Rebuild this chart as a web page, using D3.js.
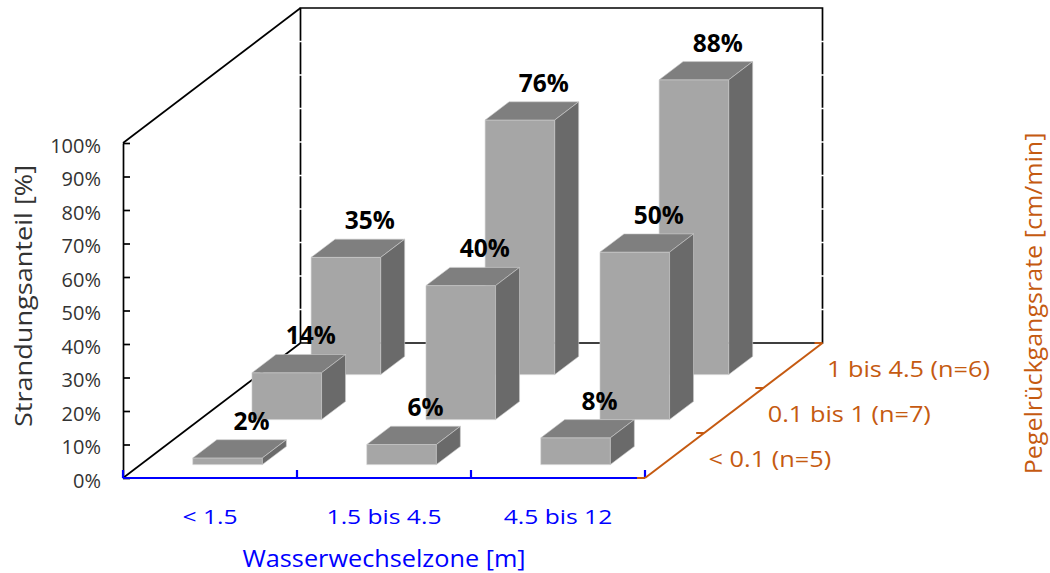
<!DOCTYPE html>
<html>
<head>
<meta charset="utf-8">
<script src="https://cdn.jsdelivr.net/npm/d3@7"></script>
<style>
  html, body { margin: 0; padding: 0; background: #fff; }
  svg { display: block; }
</style>
</head>
<body>
<svg id="chart" width="1050" height="573"></svg>
<script>
// Categories along the front axis (water level change zone)
const categories = ["< 1.5", "1.5 bis 4.5", "4.5 bis 12"];
// Series along the depth axis (rate of level decline)
const seriesNames = ["< 0.1 (n=5)", "0.1 bis 1 (n=7)", "1 bis 4.5 (n=6)"];
// Stranding share in percent, one array per series
const valuesLow = [2, 6, 8];
const valuesMid = [14, 40, 50];
const valuesHigh = [35, 76, 88];
const yTicks = [0, 10, 20, 30, 40, 50, 60, 70, 80, 90, 100];

const seriesValues = [valuesLow, valuesMid, valuesHigh];

const FONT = "'Open Sans', sans-serif";
const BLUE = "#0000ff";
const ORANGE = "#c55a11";
const GREY_TEXT = "#333333";

// Oblique 3D frame: front floor edge, wall height and depth offset
const x0 = 123, x1 = 645, floorY = 478, wallH = 335;
const depthDX = 177.5, depthDY = 135;

const svg = d3.select("#chart");

const x = d3.scaleBand().domain(categories).range([x0, x1])
  .paddingInner(0.6).paddingOuter(0.3);
const z = d3.scaleBand().domain(seriesNames).range([0, 1])
  .paddingInner(0.595).paddingOuter(0.2975);
const h = d3.scaleLinear().domain([0, 100]).range([0, wallH]);
const yAxisScale = d3.scaleLinear().domain([0, 100]).range([floorY, floorY - wallH]);
const catEdge = d3.scaleLinear().domain([0, categories.length]).range([x0, x1]);
const depthEdge = d3.scaleLinear().domain([0, seriesNames.length]).range([0, 1]);

// project a point given front x, depth fraction and height in px
const P = (px, d, height = 0) => [px + d * depthDX, floorY - d * depthDY - height];
const poly = pts => "M" + pts.map(p => p.join(",")).join("L") + "Z";
const seg = (a, b) => `M${a[0]},${a[1]}L${b[0]},${b[1]}`;

// text helper with horizontal scaling (wide Calibri-like look)
function label(parent, px, py, str, opt) {
  const g = parent.append("g")
    .attr("transform", `translate(${px},${py}) rotate(${opt.rotate || 0}) scale(${opt.sx || 1},1)`);
  g.append("text")
    .attr("text-anchor", opt.anchor || "start")
    .attr("font-family", FONT)
    .attr("font-size", opt.size)
    .attr("font-weight", opt.weight || "normal")
    .attr("fill", opt.fill || "#000")
    .text(str);
  return g;
}

// ---- walls ----
const walls = svg.append("g").attr("fill", "none").attr("stroke", "#000").attr("stroke-width", 1.7);
walls.append("path").attr("d", poly([P(x0, 1, h(100)), P(x1, 1, h(100)), P(x1, 1, 0), P(x0, 1, 0)]));
// white gridlines on the back wall
walls.selectAll("path.grid").data(yTicks.filter(v => v > 0 && v < 100)).join("path")
  .attr("class", "grid")
  .attr("stroke", "#fff").attr("stroke-width", 1.6)
  .attr("d", v => seg(P(x0 - 2, 1, h(v)), P(x1 + 2, 1, h(v))));
walls.append("path").attr("d", seg(P(x0, 0, h(100)), P(x0, 1, h(100))));
walls.append("path").attr("d", seg(P(x0, 0, 0), P(x0, 1, 0)));

// ---- y axis ----
const yAxis = svg.append("g").attr("transform", `translate(${x0},0)`)
  .call(d3.axisLeft(yAxisScale).tickValues(yTicks).tickFormat(d => d + "%")
    .tickSizeInner(-7).tickSizeOuter(0).tickPadding(22));
yAxis.select(".domain").attr("stroke", "#000").attr("stroke-width", 1.7);
yAxis.selectAll(".tick line").attr("stroke", "#000").attr("stroke-width", 1.7);
yAxis.selectAll(".tick text")
  .attr("font-family", FONT).attr("font-size", 20)
  .attr("fill", GREY_TEXT).attr("dy", "0.45em");

// ---- bars (back row first) ----
const bw = x.bandwidth(), bd = z.bandwidth();
const bars = svg.append("g");
for (let r = seriesNames.length - 1; r >= 0; r--) {
  const d0 = z(seriesNames[r]), d1 = d0 + bd;
  seriesValues[r].forEach((v, i) => {
    const xl = x(categories[i]), xr = xl + bw, hh = h(v);
    const g = bars.append("g").attr("stroke", "#cfcfcf").attr("stroke-width", 0.6)
      .attr("stroke-linejoin", "round");
    g.append("path").attr("fill", "#a6a6a6")
      .attr("d", poly([P(xl, d0, 0), P(xr, d0, 0), P(xr, d0, hh), P(xl, d0, hh)]));
    g.append("path").attr("fill", "#7f7f7f")
      .attr("d", poly([P(xl, d0, hh), P(xr, d0, hh), P(xr, d1, hh), P(xl, d1, hh)]));
    g.append("path").attr("fill", "#6a6a6a")
      .attr("d", poly([P(xr, d0, 0), P(xr, d1, 0), P(xr, d1, hh), P(xr, d0, hh)]));
  });
}

// ---- data labels ----
const labels = svg.append("g");
seriesNames.forEach((name, r) => {
  const d1 = z(name) + bd;
  seriesValues[r].forEach((v, i) => {
    const p = P(x(categories[i]) + bw / 2, d1, h(v));
    label(labels, p[0], p[1] - 10, v + "%", { size: 24.5, weight: "bold", anchor: "middle", fill: "#000" });
  });
});

// ---- category axis (front, blue) ----
const xAxis = svg.append("g");
xAxis.append("path").attr("d", seg(P(x0, 0), P(x1, 0)))
  .attr("stroke", BLUE).attr("stroke-width", 2.2);
xAxis.selectAll("path.tick").data(d3.range(categories.length + 1)).join("path")
  .attr("class", "tick").attr("stroke", BLUE).attr("stroke-width", 2.2)
  .attr("d", i => seg(P(catEdge(i), 0, 0), P(catEdge(i), 0, 8)));
categories.forEach(c => {
  label(xAxis, x(c) + bw / 2, 524, c, { size: 20.5, sx: 1.2, anchor: "middle", fill: BLUE });
});
label(xAxis, (x0 + x1) / 2, 566.5, "Wasserwechselzone [m]", { size: 23.4, sx: 1.08, anchor: "middle", fill: BLUE });

// ---- depth axis (series, orange) ----
const zAxis = svg.append("g");
zAxis.append("path").attr("d", seg(P(x1, 0), P(x1, 1)))
  .attr("stroke", ORANGE).attr("stroke-width", 2);
zAxis.selectAll("path.tick").data(d3.range(seriesNames.length + 1)).join("path")
  .attr("class", "tick").attr("stroke", ORANGE).attr("stroke-width", 2)
  .attr("d", i => { const p = P(x1, depthEdge(i)); return seg([p[0] - 8, p[1]], p); });
seriesNames.forEach(name => {
  const p = P(x1, z(name) + bd / 2);
  label(zAxis, p[0] + 34, p[1] + 11, name, { size: 22.4, sx: 1.13, anchor: "start", fill: ORANGE });
});

// ---- axis titles ----
label(svg, 32, 296, "Strandungsanteil  [%]", { size: 24, sx: 1.13, anchor: "middle", rotate: -90, fill: GREY_TEXT });
label(svg, 1042, 303.5, "Pegelrückgangsrate [cm/min]", { size: 23, sx: 1.09, anchor: "middle", rotate: -90, fill: ORANGE });
</script>
</body>
</html>
